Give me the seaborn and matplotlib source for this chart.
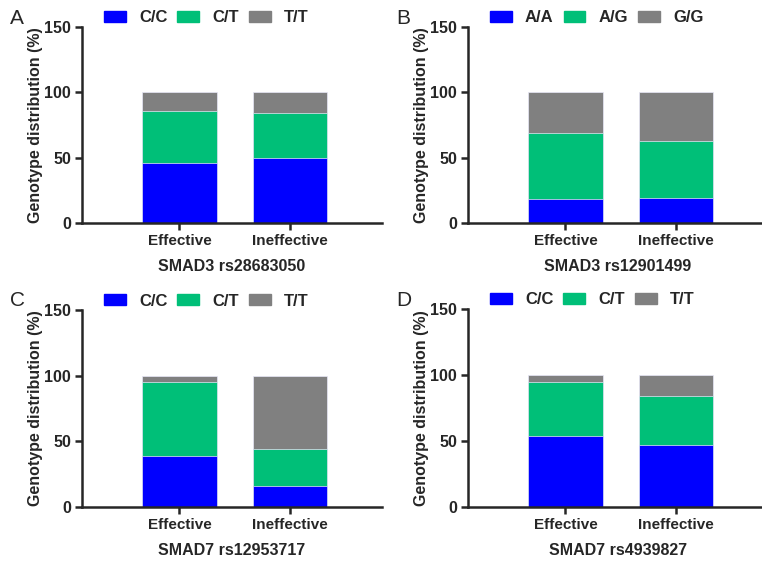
import numpy as np
import pandas as pd
import seaborn as sns
import matplotlib.pyplot as plt
from matplotlib.patches import Patch

sns.set_style("ticks")
plt.rcParams['font.family'] = ['Liberation Sans', 'DejaVu Sans']
plt.rcParams['font.weight'] = 'bold'

groups = ["Effective", "Ineffective"]

# panel A: SMAD3 rs28683050
a_labels = ["C/C", "C/T", "T/T"]
a_vals = [[46, 50], [40, 34], [14, 16]]
# panel B: SMAD3 rs12901499
b_labels = ["A/A", "A/G", "G/G"]
b_vals = [[18, 19], [51, 44], [31, 37]]
# panel C: SMAD7 rs12953717
c_labels = ["C/C", "C/T", "T/T"]
c_vals = [[39, 16], [56, 28], [5, 56]]
# panel D: SMAD7 rs4939827
d_labels = ["C/C", "C/T", "T/T"]
d_vals = [[54, 47], [41, 37], [5, 16]]

titles = ["SMAD3 rs28683050", "SMAD3 rs12901499", "SMAD7 rs12953717", "SMAD7 rs4939827"]
letters = ["A", "B", "C", "D"]
colors = ["#0000FF", "#00BF78", "#808080"]

W, H = 762, 561
fig = plt.figure(figsize=(W / 100, H / 100), dpi=100)

# axes boxes in pixels: left, y of zero, y of 150
boxes = [(82, 223, 27), (468, 223, 27), (82, 507, 310), (468, 507, 309)]
xw = 300

panels = [(a_labels, a_vals), (b_labels, b_vals), (c_labels, c_vals), (d_labels, d_vals)]

for i, ((labels, vals), (lx, y0, y1)) in enumerate(zip(panels, boxes)):
    ah = y0 - y1
    ax = fig.add_axes([lx / W, 1 - y0 / H, xw / W, ah / H])
    cum = np.cumsum(np.array(vals), axis=0)
    # draw tallest stack first so lower segments sit on top
    for k in range(len(labels) - 1, -1, -1):
        df = pd.DataFrame({"group": groups, "value": cum[k]})
        sns.barplot(data=df, x="group", y="value", color=colors[k], width=0.67,
                    saturation=1, edgecolor="#e8e8f8", linewidth=0.5, ax=ax)
    ax.set_xlim(-0.88, 1.83)
    ax.set_ylim(0, 150)
    ax.set_yticks([0, 50, 100, 150])
    sns.despine(ax=ax)
    for s in ["left", "bottom"]:
        ax.spines[s].set_linewidth(1.8)
    ax.tick_params(width=1.8, length=5, labelsize=11.5, pad=3)
    ax.tick_params(axis="x", labelsize=11)
    for t in ax.get_xticklabels() + ax.get_yticklabels():
        t.set_fontweight('bold')
    ax.set_ylabel("Genotype distribution (%)", fontsize=11.5, fontweight='bold', labelpad=1)
    ax.set_xlabel(titles[i], fontsize=11.5, fontweight='bold', labelpad=8)
    handles = [Patch(color=c) for c in colors]
    ax.legend(handles, labels, ncol=3, frameon=False, loc="center left",
              bbox_to_anchor=(22 / xw, 1 + 9 / ah), prop={'weight': 'bold', 'size': 12},
              handlelength=1.3, handleheight=0.6, columnspacing=0.6, handletextpad=0.8,
              borderaxespad=0, borderpad=0)
    fig.text((lx - 72) / W, 1 - (y1 - 9) / H, letters[i], fontsize=15,
             fontweight='normal', va='center', ha='left')

fig.savefig("out.png", dpi=100)
